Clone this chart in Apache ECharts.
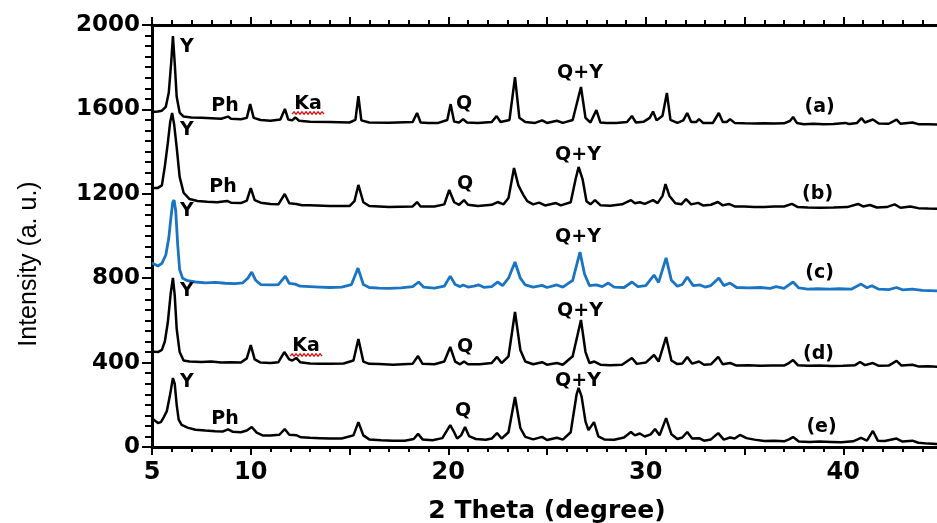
<!DOCTYPE html>
<html>
<head>
<meta charset="utf-8">
<script src="https://cdn.jsdelivr.net/npm/echarts@6/dist/echarts.min.js"></script>
<style>
  html, body { margin: 0; padding: 0; background: #fff; }
  #chart { width: 937px; height: 523px; }
</style>
</head>
<body>
<div id="chart"></div>
<script>
// 2 theta / intensity pairs (traces are stacked with offsets)
var sampleA = [[5.0,1588],[5.3,1590],[5.5,1594],[5.7,1612],[5.85,1680],[5.97,1820],[6.06,1948],[6.15,1820],[6.25,1660],[6.4,1585],[6.6,1566],[7.0,1562],[7.5,1560],[8.0,1558],[8.5,1556],[8.85,1566],[9.0,1556],[9.5,1553],[9.8,1560],[9.97,1625],[10.15,1560],[10.5,1550],[11.0,1546],[11.5,1552],[11.73,1602],[11.9,1552],[12.1,1548],[12.25,1562],[12.45,1546],[13,1542],[14,1540],[15,1538],[15.3,1550],[15.45,1663],[15.6,1548],[16,1538],[17,1537],[18.2,1540],[18.42,1583],[18.6,1538],[19,1536],[19.5,1536],[19.95,1550],[20.12,1625],[20.3,1542],[20.55,1538],[20.75,1554],[20.95,1538],[21.5,1536],[22.2,1540],[22.45,1568],[22.65,1540],[23.1,1550],[23.38,1753],[23.6,1560],[23.9,1540],[24.4,1536],[24.75,1548],[25.0,1536],[25.5,1546],[25.8,1536],[26.3,1550],[26.72,1706],[26.95,1560],[27.2,1538],[27.5,1597],[27.7,1538],[28.0,1535],[28.5,1536],[29.05,1540],[29.3,1569],[29.5,1538],[29.9,1542],[30.2,1560],[30.37,1590],[30.55,1548],[30.85,1570],[31.07,1678],[31.25,1550],[31.6,1536],[31.9,1548],[32.1,1583],[32.3,1540],[32.55,1540],[32.7,1554],[32.9,1536],[33.4,1536],[33.7,1583],[33.9,1540],[34.1,1540],[34.27,1554],[34.5,1536],[35,1534],[35.5,1533],[36,1534],[36.5,1533],[37.0,1534],[37.3,1545],[37.46,1564],[37.65,1536],[38.0,1530],[38.5,1532],[39,1530],[39.5,1531],[40.1,1536],[40.3,1531],[40.7,1536],[40.92,1559],[41.1,1538],[41.5,1552],[41.8,1533],[42.3,1532],[42.7,1552],[42.9,1532],[43.5,1538],[43.8,1530],[44.3,1530],[45,1528]];

var sampleB = [[5.0,1227],[5.3,1228],[5.5,1240],[5.65,1330],[5.8,1440],[5.92,1540],[6.02,1583],[6.12,1530],[6.25,1420],[6.4,1280],[6.6,1205],[6.9,1175],[7.3,1166],[7.8,1162],[8.3,1160],[8.8,1166],[9.0,1158],[9.5,1156],[9.8,1168],[10.0,1227],[10.2,1170],[10.5,1158],[11.0,1152],[11.4,1150],[11.72,1199],[11.95,1155],[12.3,1152],[12.6,1146],[13,1146],[14,1142],[15.0,1142],[15.25,1165],[15.45,1242],[15.7,1160],[16,1142],[17,1138],[18.2,1140],[18.42,1161],[18.6,1140],[19.3,1140],[19.8,1150],[20.05,1218],[20.3,1160],[20.55,1148],[20.8,1170],[21.0,1148],[21.5,1142],[22.2,1148],[22.5,1161],[22.8,1150],[23.05,1180],[23.33,1322],[23.55,1240],[23.8,1195],[24.0,1165],[24.3,1150],[24.6,1158],[24.9,1145],[25.45,1156],[25.7,1145],[26.2,1160],[26.45,1270],[26.6,1327],[26.8,1270],[27.0,1165],[27.2,1150],[27.43,1170],[27.7,1146],[28.2,1143],[28.8,1150],[29.25,1170],[29.45,1155],[29.7,1160],[29.95,1152],[30.37,1170],[30.6,1156],[30.85,1190],[31.0,1246],[31.2,1190],[31.5,1155],[31.8,1150],[32.04,1175],[32.3,1150],[32.65,1157],[32.9,1145],[33.3,1148],[33.65,1161],[33.9,1145],[34.2,1152],[34.5,1140],[35,1140],[35.5,1138],[36,1137],[36.5,1140],[37.0,1140],[37.4,1152],[37.7,1137],[38.2,1135],[38.8,1134],[39.5,1135],[40.2,1137],[40.75,1152],[41.0,1140],[41.35,1147],[41.7,1135],[42.2,1137],[42.6,1150],[42.9,1134],[43.4,1140],[43.8,1132],[44.3,1130],[45,1128]];

var sampleC = [[5.0,872],[5.15,865],[5.3,858],[5.5,870],[5.7,910],[5.85,990],[5.95,1080],[6.05,1160],[6.12,1170],[6.2,1120],[6.3,960],[6.4,840],[6.55,800],[6.8,788],[7.2,782],[7.7,778],[8.2,780],[8.7,776],[9.2,774],[9.6,778],[9.85,800],[10.05,829],[10.25,790],[10.5,770],[11.0,768],[11.4,770],[11.75,810],[11.95,775],[12.25,772],[12.5,762],[13,760],[13.5,758],[14,756],[14.6,758],[15.1,770],[15.43,848],[15.7,770],[16,756],[16.5,753],[17,752],[17.6,754],[18.2,760],[18.5,782],[18.75,758],[19.3,753],[19.8,762],[20.1,810],[20.35,770],[20.6,760],[20.75,768],[21.0,758],[21.3,762],[21.55,768],[21.8,757],[22.2,760],[22.5,782],[22.75,765],[23.05,800],[23.38,877],[23.65,800],[23.9,768],[24.3,758],[24.75,766],[25.0,756],[25.5,768],[25.8,758],[26.3,790],[26.67,924],[26.9,820],[27.15,765],[27.5,768],[27.8,760],[28.1,777],[28.4,758],[28.9,756],[29.3,782],[29.6,760],[30.0,765],[30.42,815],[30.65,780],[31.03,896],[31.3,790],[31.6,762],[31.85,770],[32.1,806],[32.4,765],[32.75,768],[33.0,758],[33.3,765],[33.7,801],[33.95,765],[34.27,777],[34.6,756],[35.2,754],[35.8,756],[36.3,752],[36.6,760],[37.0,752],[37.25,768],[37.46,782],[37.75,754],[38.2,748],[38.7,750],[39.3,748],[39.8,750],[40.4,748],[40.9,772],[41.2,755],[41.45,764],[41.8,748],[42.3,746],[42.7,756],[43.0,745],[43.5,748],[44.0,742],[45,739]];

var sampleD = [[5.0,452],[5.3,450],[5.5,460],[5.65,500],[5.8,590],[5.95,730],[6.06,801],[6.15,720],[6.25,560],[6.4,450],[6.6,410],[6.9,405],[7.5,403],[8.0,405],[8.5,400],[9.0,402],[9.5,400],[9.8,420],[10.0,483],[10.2,415],[10.5,400],[11.0,398],[11.4,402],[11.7,450],[11.95,415],[12.1,410],[12.3,422],[12.5,402],[13,396],[13.5,395],[14,394],[14.7,396],[15.2,410],[15.45,512],[15.7,405],[16.0,394],[16.5,393],[17.2,390],[18.2,395],[18.47,431],[18.7,394],[19.3,392],[19.8,405],[20.1,474],[20.35,405],[20.6,392],[20.8,405],[21.0,392],[21.6,392],[22.2,398],[22.47,427],[22.7,398],[23.05,430],[23.38,640],[23.65,460],[23.9,405],[24.3,392],[24.75,402],[25.0,390],[25.5,398],[25.8,390],[26.3,430],[26.72,602],[26.95,450],[27.15,398],[27.4,405],[27.7,390],[28.2,388],[28.8,390],[29.3,422],[29.55,394],[30.0,400],[30.42,436],[30.65,405],[31.03,521],[31.3,410],[31.6,393],[31.85,396],[32.1,427],[32.35,395],[32.7,405],[32.95,390],[33.3,392],[33.67,427],[33.9,392],[34.27,398],[34.6,386],[35.2,387],[35.8,385],[36.4,386],[37.0,386],[37.25,398],[37.46,412],[37.7,388],[38.2,385],[38.8,386],[39.4,384],[40.0,385],[40.6,388],[40.85,403],[41.1,388],[41.5,398],[41.8,385],[42.3,386],[42.7,408],[42.95,386],[43.5,390],[43.8,382],[44.3,383],[45,379]];

var sampleE = [[5.0,137],[5.15,125],[5.3,114],[5.45,118],[5.6,142],[5.75,170],[5.9,240],[6.06,327],[6.15,300],[6.25,200],[6.35,130],[6.5,105],[6.8,92],[7.2,82],[7.7,78],[8.2,75],[8.6,74],[8.85,84],[9.1,72],[9.5,70],[9.8,78],[10.05,95],[10.3,68],[10.6,55],[11.0,54],[11.45,58],[11.72,85],[11.95,58],[12.3,56],[12.55,46],[13,44],[13.5,42],[14,40],[14.6,40],[15.2,55],[15.45,118],[15.7,55],[16,36],[16.6,32],[17.2,30],[17.8,30],[18.25,38],[18.47,62],[18.7,36],[19.2,32],[19.7,42],[20.1,104],[20.3,70],[20.45,40],[20.65,55],[20.85,95],[21.05,52],[21.4,38],[21.9,34],[22.2,40],[22.47,66],[22.7,40],[23.05,70],[23.38,237],[23.65,90],[23.9,48],[24.3,36],[24.75,48],[25.0,33],[25.5,44],[25.8,35],[26.2,70],[26.5,250],[26.6,280],[26.75,240],[26.95,120],[27.1,80],[27.38,118],[27.6,50],[27.9,36],[28.4,34],[28.9,45],[29.25,71],[29.45,55],[29.7,64],[29.95,50],[30.25,60],[30.47,85],[30.7,55],[31.03,137],[31.3,60],[31.6,38],[31.85,45],[32.1,71],[32.35,40],[32.7,42],[32.95,30],[33.3,36],[33.67,66],[33.95,35],[34.27,45],[34.5,40],[34.77,57],[35.1,42],[35.5,35],[36.0,28],[36.5,30],[37.0,27],[37.25,36],[37.46,47],[37.75,26],[38.3,24],[38.8,26],[39.4,24],[39.9,22],[40.5,27],[40.9,43],[41.2,30],[41.5,76],[41.75,30],[42.1,28],[42.4,34],[42.7,40],[43.0,26],[43.5,30],[43.8,20],[44.3,16],[45,14]];

// phase tags: [2theta, intensity, text]
var peakTags = [
  [6.77,1896,'Y'],[6.77,1502,'Y'],[6.77,1118,'Y'],[6.77,739,'Y'],[6.77,308,'Y'],
  [8.7,1616,'Ph'],[8.6,1232,'Ph'],[8.7,133,'Ph'],
  [12.9,1626,'Ka'],[12.8,479,'Ka'],
  [20.8,1626,'Q'],[20.85,1246,'Q'],[20.85,474,'Q'],[20.75,171,'Q'],
  [26.67,1772,'Q+Y'],[26.57,1384,'Q+Y'],[26.57,995,'Q+Y'],[26.67,645,'Q+Y'],[26.57,313,'Q+Y']
];
var sampleTags = [[38.8,1611,'(a)'],[38.7,1199,'(b)'],[38.8,825,'(c)'],[38.75,441,'(d)'],[38.9,95,'(e)']];
var xTickLabels = [5, 10, 20, 30, 40];

var chart = echarts.init(document.getElementById('chart'));

function trace(name, data, color, width) {
  return {
    name: name,
    type: 'line',
    data: data,
    symbol: 'none',
    lineStyle: { color: color, width: width },
    z: 3
  };
}

var boldFont = 'DejaVu Sans';
var option = {
  animation: false,
  backgroundColor: '#fff',
  grid: { left: 152, top: 25, right: -5, bottom: 76, outerBoundsMode: 'none' },
  xAxis: [
    {
      type: 'value',
      min: 5,
      max: 45,
      interval: 5,
      position: 'bottom',
      name: '2 Theta (degree)',
      nameLocation: 'middle',
      nameGap: 52,
      nameTextStyle: { color: '#000', fontFamily: boldFont, fontWeight: 'bold', fontSize: 25 },
      axisLine: { onZero: false, lineStyle: { color: '#000', width: 3 } },
      axisTick: { length: 8, lineStyle: { color: '#000', width: 2 } },
      minorTick: { show: true, splitNumber: 5, length: 5, lineStyle: { color: '#000', width: 2 } },
      splitLine: { show: false },
      axisLabel: {
        margin: 14,
        color: '#000',
        fontFamily: boldFont,
        fontWeight: 'bold',
        fontSize: 24,
        formatter: function (v) { return xTickLabels.indexOf(v) >= 0 ? String(v) : ''; }
      }
    },
    {
      type: 'value',
      min: 5,
      max: 45,
      interval: 5,
      position: 'top',
      axisLine: { onZero: false, lineStyle: { color: '#000', width: 3 } },
      axisTick: { length: 8, lineStyle: { color: '#000', width: 2 } },
      minorTick: { show: true, splitNumber: 5, length: 5, lineStyle: { color: '#000', width: 2 } },
      splitLine: { show: false },
      axisLabel: { show: false }
    }
  ],
  yAxis: {
    type: 'value',
    min: 0,
    max: 2000,
    interval: 400,
    name: 'Intensity (a. u.)',
    nameLocation: 'middle',
    nameGap: 110,
    nameTextStyle: { color: '#000', fontFamily: 'Liberation Sans', fontSize: 25, padding: [0, 56, 0, 0] },
    axisLine: { show: true, lineStyle: { color: '#000', width: 3 } },
    axisTick: { length: 10, lineStyle: { color: '#000', width: 2 } },
    minorTick: { show: true, splitNumber: 8, length: 7, lineStyle: { color: '#000', width: 2 } },
    splitLine: { show: false },
    axisLabel: {
      margin: 12, color: '#000', fontFamily: boldFont, fontWeight: 'bold', fontSize: 23,
      formatter: function (v) { return String(v); }
    }
  },
  series: [
    trace('a', sampleA, '#000', 2.5),
    trace('b', sampleB, '#000', 2.5),
    trace('c', sampleC, '#1a74c4', 2.8),
    trace('d', sampleD, '#000', 2.5),
    trace('e', sampleE, '#000', 2.5),
    {
      name: 'tags',
      type: 'scatter',
      data: peakTags.concat(sampleTags),
      symbolSize: 0,
      itemStyle: { color: '#000', opacity: 1 },
      silent: true,
      z: 5,
      label: {
        show: true,
        opacity: 1,
        position: [0, 0],
        align: 'center',
        verticalAlign: 'middle',
        color: '#000',
        fontFamily: boldFont,
        fontWeight: 'bold',
        fontSize: 19,
        formatter: function (p) { return p.data[2]; }
      }
    }
  ]
};
chart.setOption(option);

// red wavy underline below the "Ka" tags
var squiggles = [];
peakTags.forEach(function (t) {
  if (t[2] !== 'Ka') return;
  var c = chart.convertToPixel({ seriesIndex: 5 }, [t[0], t[1]]);
  var pts = [];
  for (var i = 0; i <= 16; i++) {
    pts.push([c[0] - 16 + i * 2, c[1] + 9 + (i % 2 ? -1.2 : 1.2)]);
  }
  squiggles.push({
    type: 'polyline',
    shape: { points: pts },
    style: { stroke: '#e01010', lineWidth: 1.3, fill: null },
    z: 10
  });
});
chart.setOption({ graphic: squiggles });
</script>
</body>
</html>
